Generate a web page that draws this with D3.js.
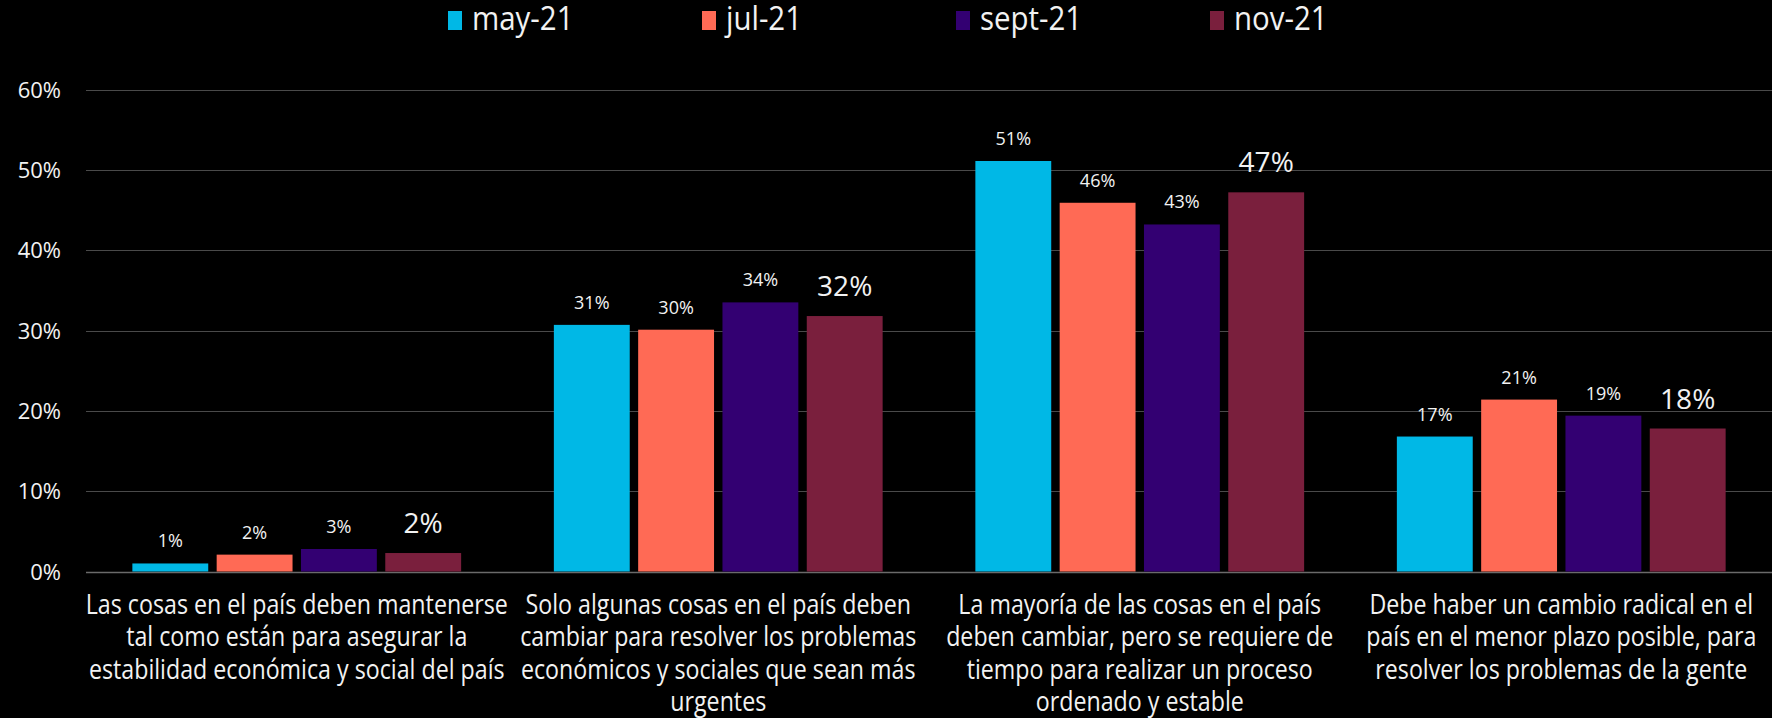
<!DOCTYPE html>
<html>
<head>
<meta charset="utf-8">
<script src="https://cdn.jsdelivr.net/npm/d3@7"></script>
<style>
  body { margin: 0; background: #000; }
  svg { display: block; }
  text { fill: #f2f2f2; font-family: "Open Sans", sans-serif; }
</style>
</head>
<body>
<svg id="chart" width="1772" height="718"></svg>
<script>
var categories = [
    ['Las cosas en el país deben mantenerse', 'tal como están para asegurar la', 'estabilidad económica y social del país'],
    ['Solo algunas cosas en el país deben', 'cambiar para resolver los problemas', 'económicos y sociales que sean más', 'urgentes'],
    ['La mayoría de las cosas en el país', 'deben cambiar, pero se requiere de', 'tiempo para realizar un proceso', 'ordenado y estable'],
    ['Debe haber un cambio radical en el', 'país en el menor plazo posible, para', 'resolver los problemas de la gente']
];
var seriesNames = ['may-21', 'jul-21', 'sept-21', 'nov-21'];
var seriesColors = ['#00b8e6', '#ff6a55', '#330072', '#7a1f3d'];

var may21 = [0.010, 0.307, 0.511, 0.168];
var jul21 = [0.021, 0.301, 0.459, 0.214];
var sept21 = [0.028, 0.335, 0.432, 0.194];
var nov21 = [0.023, 0.318, 0.472, 0.178];
var seriesValues = [may21, jul21, sept21, nov21];

var yTicks = [0, 0.1, 0.2, 0.3, 0.4, 0.5, 0.6];

var svg = d3.select('#chart');

var plotLeft = 86;
var plotRight = 1772;
var plotTop = 89.5;
var plotBottom = 571.5;

var x0 = d3.scaleBand()
    .domain(d3.range(categories.length))
    .range([plotLeft, plotRight]);

var x1 = d3.scaleBand()
    .domain(d3.range(seriesNames.length))
    .range([0, x0.bandwidth()])
    .paddingInner(0.1)
    .paddingOuter(0.55);

var y = d3.scaleLinear()
    .domain([0, 0.6])
    .range([plotBottom, plotTop]);

// gridlines
svg.append('g')
    .selectAll('line')
    .data(yTicks)
    .enter()
    .append('line')
    .attr('x1', plotLeft)
    .attr('x2', plotRight)
    .attr('y1', function(d) { return Math.round(y(d)) + 0.5; })
    .attr('y2', function(d) { return Math.round(y(d)) + 0.5; })
    .attr('stroke', function(d) { return d == 0 ? '#6a6a6a' : '#4a4a4a'; })
    .attr('stroke-width', function(d) { return d == 0 ? 1.5 : 1; });

// y labels
svg.append('g')
    .selectAll('text')
    .data(yTicks)
    .enter()
    .append('text')
    .attr('x', 61)
    .attr('y', function(d) { return y(d) + 8; })
    .attr('text-anchor', 'end')
    .style('font-size', '22px')
    .text(function(d) { return d3.format('.0%')(d); });

// bars
var rows = [];
categories.forEach(function(c, ci) {
    seriesValues.forEach(function(vals, si) {
        rows.push({ c: ci, s: si, v: vals[ci] });
    });
});

var groups = svg.append('g');

groups.selectAll('rect')
    .data(rows)
    .enter()
    .append('rect')
    .attr('x', function(d) { return x0(d.c) + x1(d.s); })
    .attr('y', function(d) { return y(d.v); })
    .attr('width', x1.bandwidth())
    .attr('height', function(d) { return y(0) - y(d.v); })
    .attr('fill', function(d) { return seriesColors[d.s]; });

groups.selectAll('text')
    .data(rows)
    .enter()
    .append('text')
    .attr('x', function(d) { return x0(d.c) + x1(d.s) + x1.bandwidth() / 2; })
    .attr('y', function(d) { return y(d.v) - (d.s == 3 ? 20 : 16); })
    .attr('text-anchor', 'middle')
    .style('font-size', function(d) { return d.s == 3 ? '28px' : '18px'; })
    .text(function(d) { return d3.format('.0%')(d.v); });

// category labels (condensed like the original)
var labelScale = 0.86;
var catLabels = svg.append('g')
    .selectAll('g')
    .data(categories)
    .enter()
    .append('g')
    .attr('transform', function(d, i) { return 'translate(' + (x0(i) + x0.bandwidth() / 2) + ',614) scale(' + labelScale + ',1)'; });

catLabels.append('text')
    .attr('text-anchor', 'middle')
    .style('font-size', '27px')
    .selectAll('tspan')
    .data(function(d) { return d; })
    .enter()
    .append('tspan')
    .attr('x', 0)
    .attr('y', function(d, i) { return i * 32.5; })
    .text(function(d) { return d; });

// legend
var legend = svg.append('g')
    .selectAll('g')
    .data(seriesNames)
    .enter()
    .append('g')
    .attr('transform', function(d, i) { return 'translate(' + (448 + i * 254) + ',11)'; });

legend.append('rect')
    .attr('width', 14)
    .attr('height', 19)
    .attr('fill', function(d, i) { return seriesColors[i]; });

legend.append('text')
    .attr('transform', 'translate(24,19) scale(0.92,1)')
    .style('font-size', '32px')
    .text(function(d) { return d; });
</script>
</body>
</html>
